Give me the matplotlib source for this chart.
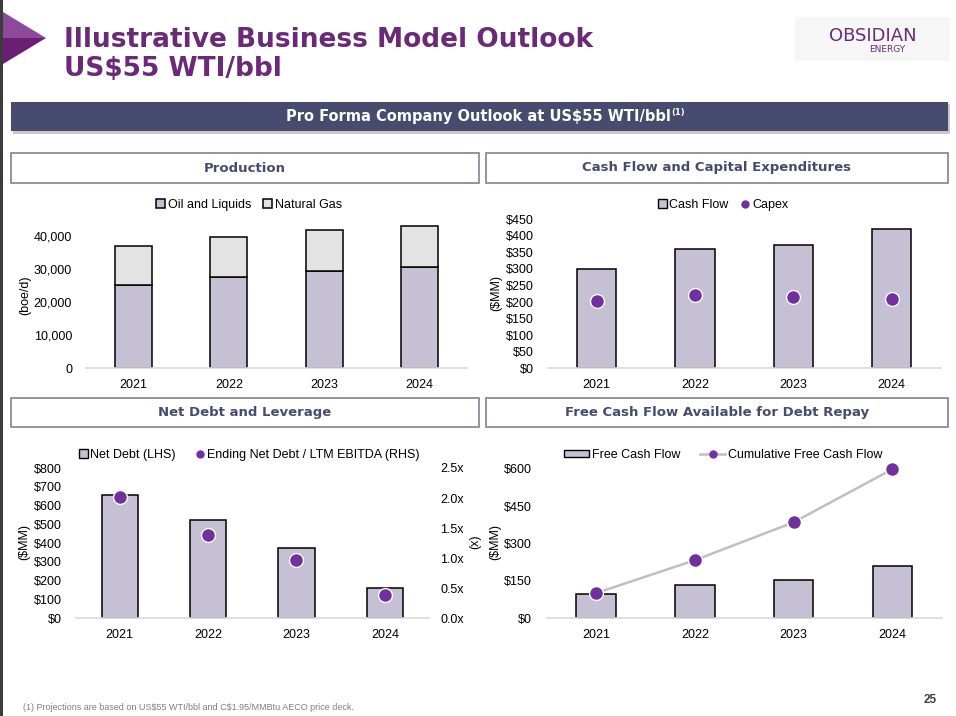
import matplotlib
matplotlib.use("Agg")
import matplotlib.pyplot as plt
from matplotlib.patches import Rectangle, Polygon, Patch
from matplotlib.lines import Line2D

# --- DATA ---
YEARS = ["2021", "2022", "2023", "2024"]

oil_liquids = [25300, 27800, 29600, 30800]
natural_gas = [11900, 12100, 12400, 12400]

cash_flow = [300, 360, 373, 422]
capex = [202, 222, 214, 208]

net_debt = [656, 522, 374, 161]
leverage = [2.01, 1.39, 0.97, 0.39]

free_cash_flow = [98, 134, 155, 210]
cumulative_fcf = [101, 233, 385, 598]

prod_ticks = [0, 10000, 20000, 30000, 40000]
cf_ticks = [0, 50, 100, 150, 200, 250, 300, 350, 400, 450]
debt_ticks = [0, 100, 200, 300, 400, 500, 600, 700, 800]
lev_ticks = [0.0, 0.5, 1.0, 1.5, 2.0, 2.5]
fcf_ticks = [0, 150, 300, 450, 600]

# --- STYLE ---
W, H = 956, 716
PURPLE = "#6B2A78"
SLATE = "#474B6E"
BAR = "#C5C0D3"
GAS = "#E3E3E3"
DOT = "#7030A0"
AXIS = "#D9D9D9"
plt.rcParams["font.family"] = ["Liberation Sans", "DejaVu Sans"]
plt.rcParams["text.parse_math"] = False

fig = plt.figure(figsize=(W / 100, H / 100), dpi=100)
fig.patch.set_facecolor("white")


def fx(x):
    return x / W


def fy(y):
    return 1 - y / H


def px_axes(x0, x1, ytop, ybot):
    return fig.add_axes([fx(x0), fy(ybot), (x1 - x0) / W, (ybot - ytop) / H])


def add_rect(x0, y0, x1, y1, **kw):
    fig.patches.append(Rectangle((fx(x0), fy(y1)), (x1 - x0) / W, (y1 - y0) / H,
                                 transform=fig.transFigure, **kw))


# --- slide decoration ---
add_rect(0, 0, 3, H, facecolor="#3C3C3C", edgecolor="none")
fig.patches.append(Polygon([(fx(3), fy(12)), (fx(46), fy(38)), (fx(3), fy(38))],
                           closed=True, transform=fig.transFigure, facecolor="#8E4A9A", edgecolor="none"))
fig.patches.append(Polygon([(fx(3), fy(38)), (fx(46), fy(38)), (fx(3), fy(64))],
                           closed=True, transform=fig.transFigure, facecolor="#6B1F74", edgecolor="none"))

fig.text(fx(64), fy(47), "Illustrative Business Model Outlook", fontsize=19, fontweight="bold",
         color=PURPLE, family="DejaVu Sans", va="baseline", ha="left")
fig.text(fx(64), fy(76), "US$55 WTI/bbl", fontsize=19, fontweight="bold",
         color=PURPLE, family="DejaVu Sans", va="baseline", ha="left")

add_rect(795, 17, 950, 61, facecolor="#F6F6F6", edgecolor="none")
fig.text(fx(873), fy(41), "OBSIDIAN", fontsize=13, color=PURPLE, family="DejaVu Sans",
         ha="center", va="baseline")
fig.text(fx(887), fy(51.5), "ENERGY", fontsize=6.5, color=PURPLE, family="DejaVu Sans",
         ha="center", va="baseline")

# banner with a soft shadow
add_rect(13, 104, 950, 134, facecolor="#C8C8C8", edgecolor="none")
add_rect(11, 102, 948, 131, facecolor=SLATE, edgecolor="none")
fig.text(fx(478), fy(116.5), "Pro Forma Company Outlook at US$55 WTI/bbl", fontsize=10.5,
         fontweight="bold", color="white", family="DejaVu Sans", ha="center", va="center")
fig.text(fx(671), fy(112), "(1)", fontsize=6, fontweight="bold", color="white",
         family="DejaVu Sans", ha="left", va="center")

headers = [
    (11, 479, 153, 183, "Production"),
    (486, 948, 153, 183, "Cash Flow and Capital Expenditures"),
    (11, 479, 398, 427, "Net Debt and Leverage"),
    (486, 948, 398, 427, "Free Cash Flow Available for Debt Repay"),
]
for x0, x1, y0, y1, label in headers:
    add_rect(x0, y0, x1, y1, facecolor="white", edgecolor="#8A8AA6", linewidth=1.3)
    fig.text(fx((x0 + x1) / 2), fy((y0 + y1) / 2), label, fontsize=9.5, fontweight="bold",
             color=SLATE, family="DejaVu Sans", ha="center", va="center")

fig.text(fx(23), fy(707), "(1) Projections are based on US$55 WTI/bbl and C$1.95/MMBtu AECO price deck.",
         fontsize=6.5, color="#7F7F7F", ha="left", va="center")
fig.text(fx(937), fy(700), "25", fontsize=8.5, fontweight="bold", color="#404040", ha="right", va="center")


def style_axes(ax, ymax, ticks, fmt, pad):
    ax.set_xlim(-0.5, 3.5)
    ax.set_ylim(0, ymax)
    ax.set_yticks(ticks)
    ax.set_yticklabels([fmt(t) for t in ticks])
    ax.set_xticks(range(len(YEARS)))
    ax.set_xticklabels(YEARS)
    for s in ["top", "right", "left"]:
        ax.spines[s].set_visible(False)
    ax.spines["bottom"].set_color(AXIS)
    ax.spines["bottom"].set_linewidth(1.2)
    ax.tick_params(axis="both", length=0, labelsize=9)
    ax.tick_params(axis="y", pad=pad)
    ax.tick_params(axis="x", pad=7.5)
    ax.set_facecolor("none")


x = list(range(len(YEARS)))
LEG = dict(loc="center", bbox_transform=fig.transFigure, ncol=2, frameon=False, fontsize=9,
           handletextpad=0.2)

# --- Production ---
ax1 = px_axes(86, 467, 219.8, 368.3)
ax1.bar(x, oil_liquids, width=0.39, color=BAR, edgecolor="black", linewidth=1.1, label="Oil and Liquids")
ax1.bar(x, natural_gas, width=0.39, bottom=oil_liquids, color=GAS, edgecolor="black", linewidth=1.1,
        label="Natural Gas")
style_axes(ax1, 45000, prod_ticks, lambda v: f"{v:,.0f}", 10)
fig.text(fx(25), fy(295), "(boe/d)", rotation=90, fontsize=9, ha="center", va="center")
ax1.legend(bbox_to_anchor=(fx(249), fy(205)), handlelength=0.7, handleheight=0.7,
           columnspacing=1.0, **LEG)

# --- Cash Flow and Capex ---
ax2 = px_axes(547.5, 941, 219.3, 368.3)
ax2.bar(x, cash_flow, width=0.4, color=BAR, edgecolor="black", linewidth=1.1)
ax2.plot(x, capex, "o", color=DOT, markersize=10, markeredgecolor="white", markeredgewidth=1)
style_axes(ax2, 450, cf_ticks, lambda v: f"${v:.0f}", 9.7)
fig.text(fx(496), fy(293), "($MM)", rotation=90, fontsize=9, ha="center", va="center")
ax2.legend([Patch(facecolor=BAR, edgecolor="black"),
            Line2D([], [], marker="o", linestyle="none", color=DOT, markersize=5)],
           ["Cash Flow", "Capex"], bbox_to_anchor=(fx(723), fy(205)),
           handlelength=0.7, handleheight=0.7, columnspacing=1.0, **LEG)

# --- Net Debt and Leverage ---
ax3 = px_axes(75.5, 429, 468, 618.3)
ax3.bar(x, net_debt, width=0.41, color=BAR, edgecolor="black", linewidth=1.1)
style_axes(ax3, 800, debt_ticks, lambda v: f"${v:.0f}", 9.7)
ax3b = ax3.twinx()
ax3b.plot(x, leverage, "o", color=DOT, markersize=10, markeredgecolor="white", markeredgewidth=1)
ax3b.set_ylim(0, 2.5)
ax3b.set_yticks(lev_ticks)
ax3b.set_yticklabels([f"{v:.1f}x" for v in lev_ticks])
for s in ["top", "right", "left", "bottom"]:
    ax3b.spines[s].set_visible(False)
ax3b.tick_params(axis="y", length=0, labelsize=9, pad=8)
fig.text(fx(24), fy(542), "($MM)", rotation=90, fontsize=9, ha="center", va="center")
fig.text(fx(475), fy(542), "(x)", rotation=90, fontsize=9, ha="center", va="center")
ax3.legend([Patch(facecolor=BAR, edgecolor="black"),
            Line2D([], [], marker="o", linestyle="none", color=DOT, markersize=5)],
           ["Net Debt (LHS)", "Ending Net Debt / LTM EBITDA (RHS)"],
           bbox_to_anchor=(fx(249), fy(455)), handlelength=0.7, handleheight=0.7,
           columnspacing=1.6, **LEG)

# --- Free Cash Flow ---
ax4 = px_axes(546.7, 941.7, 468.7, 618.3)
ax4.bar(x, free_cash_flow, width=0.4, color=BAR, edgecolor="black", linewidth=1.1)
ax4.plot(x, cumulative_fcf, "-", color="#BFBFBF", linewidth=1.8, zorder=3, clip_on=False)
ax4.plot(x, cumulative_fcf, "o", color=DOT, markersize=10, markeredgecolor="white", markeredgewidth=1,
         zorder=4, clip_on=False)
style_axes(ax4, 600, fcf_ticks, lambda v: f"${v:.0f}", 10.5)
fig.text(fx(495), fy(542), "($MM)", rotation=90, fontsize=9, ha="center", va="center")
ax4.legend([Patch(facecolor=BAR, edgecolor="black"),
            Line2D([], [], marker="o", color="#BFBFBF", markerfacecolor=DOT, markeredgecolor=DOT,
                   markersize=5, linewidth=1.8)],
           ["Free Cash Flow", "Cumulative Free Cash Flow"],
           bbox_to_anchor=(fx(723), fy(455)), handlelength=2.0, handleheight=0.5,
           columnspacing=1.6, **LEG)

fig.savefig("out.png", dpi=100)
